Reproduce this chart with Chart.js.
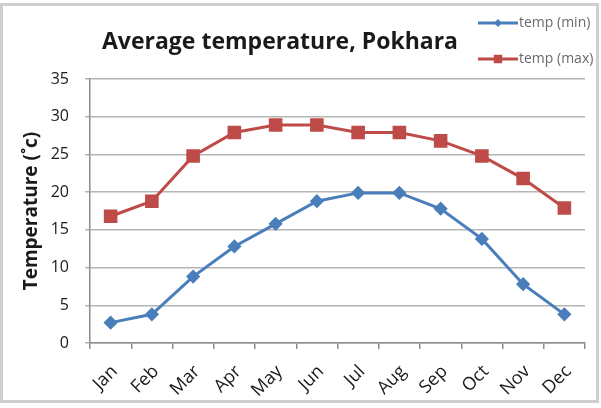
<!DOCTYPE html>
<html>
<head>
<meta charset="utf-8">
<script src="https://cdn.jsdelivr.net/npm/chart.js@4.4.1/dist/chart.umd.min.js"></script>
<style>
html,body{margin:0;padding:0;background:#fff;}
#wrap{position:relative;width:601px;height:408px;}
</style>
</head>
<body>
<div id="wrap"><canvas id="c" width="601" height="408"></canvas></div>
<script>
const months = ['Jan','Feb','Mar','Apr','May','Jun','Jul','Aug','Sep','Oct','Nov','Dec'];
const tempMin = [2.7, 3.8, 8.8, 12.8, 15.8, 18.8, 19.9, 19.9, 17.8, 13.8, 7.8, 3.8];
const tempMax = [16.8, 18.8, 24.8, 27.9, 28.9, 28.9, 27.9, 27.9, 26.8, 24.8, 21.8, 17.9];
const yTicks = [0, 5, 10, 15, 20, 25, 30, 35];
const seriesNames = ['temp (min)', 'temp (max)'];
const titleText = 'Average temperature, Pokhara';
const yTitleText = 'Temperature (˚c)';

const FONT = '"Open Sans", "Liberation Sans", sans-serif';
const BLUE = '#4a7ebb';
const RED = '#be4b48';

function drawMarker(ctx, style, x, y, r, color) {
  ctx.save();
  ctx.fillStyle = color;
  ctx.beginPath();
  if (style === 'rect') {
    const s = r * Math.SQRT1_2;
    ctx.rect(x - s, y - s, 2 * s, 2 * s);
  } else {
    ctx.moveTo(x, y - r); ctx.lineTo(x + r, y); ctx.lineTo(x, y + r); ctx.lineTo(x - r, y); ctx.closePath();
  }
  ctx.fill();
  ctx.restore();
}

const deco = {
  id: 'deco',
  beforeDraw(chart) {
    const ctx = chart.ctx;
    ctx.save();
    ctx.fillStyle = '#ffffff';
    ctx.fillRect(0, 0, chart.width, chart.height);
    ctx.strokeStyle = '#cfcfcf';
    ctx.lineWidth = 3;
    ctx.strokeRect(1.5, 4.5, 596, 397);
    ctx.restore();
  },
  afterDraw(chart) {
    const ctx = chart.ctx;
    ctx.save();
    ctx.font = 'bold 23px ' + FONT;
    ctx.fillStyle = '#1a1a1a';
    ctx.textAlign = 'center';
    ctx.textBaseline = 'middle';
    ctx.fillText(titleText, 280, 42);
    const ys = [23, 59];
    chart.data.datasets.forEach((ds, i) => {
      const y = ys[i];
      ctx.strokeStyle = ds.borderColor;
      ctx.lineWidth = 3;
      ctx.beginPath(); ctx.moveTo(478, y); ctx.lineTo(518, y); ctx.stroke();
      drawMarker(ctx, ds.pointStyle, 498, y, i === 0 ? 4 : 6, ds.borderColor);
      ctx.font = '14px ' + FONT;
      ctx.fillStyle = '#6a6a6a';
      ctx.textAlign = 'left';
      ctx.textBaseline = 'middle';
      ctx.fillText(ds.label, 519, y);
    });
    ctx.restore();
  }
};

new Chart(document.getElementById('c'), {
  type: 'line',
  data: {
    labels: months,
    datasets: [
      { label: seriesNames[0], data: tempMin, borderColor: BLUE, backgroundColor: BLUE, borderWidth: 3,
        pointStyle: 'rectRot', pointRadius: 5, pointBackgroundColor: BLUE, pointBorderColor: BLUE, tension: 0 },
      { label: seriesNames[1], data: tempMax, borderColor: RED, backgroundColor: RED, borderWidth: 3,
        pointStyle: 'rect', pointRadius: 7.5, pointBackgroundColor: RED, pointBorderColor: RED, tension: 0 }
    ]
  },
  options: {
    responsive: false,
    animation: false,
    layout: { padding: { left: 0, right: 16, top: 79, bottom: 0 } },
    plugins: { legend: { display: false }, title: { display: false }, tooltip: { enabled: false } },
    scales: {
      x: {
        offset: true,
        grid: { offset: true, drawOnChartArea: false, color: '#8c8c8c', lineWidth: 1.5, tickLength: 6 },
        border: { color: '#8c8c8c', width: 1.5 },
        ticks: { minRotation: 45, maxRotation: 45, autoSkip: false, font: { family: FONT, size: 18 }, color: '#1a1a1a', padding: 12, labelOffset: 4 },
        afterFit(s) { s.height = 65; }
      },
      y: {
        min: 0, max: 35,
        afterBuildTicks(s) { s.ticks = yTicks.map(v => ({ value: v })); },
        grid: { color: '#b5b5b5', lineWidth: 1.5, tickLength: 5 },
        border: { color: '#8c8c8c', width: 1.5 },
        ticks: { font: { family: FONT, size: 16 }, color: '#1a1a1a', padding: 16 },
        title: { display: true, text: yTitleText, font: { family: FONT, size: 19, weight: 'bold' }, color: '#1a1a1a', padding: { top: 20, bottom: 0 } },
        afterFit(s) { s.width = 90; }
      }
    }
  },
  plugins: [deco]
});
</script>
</body>
</html>
